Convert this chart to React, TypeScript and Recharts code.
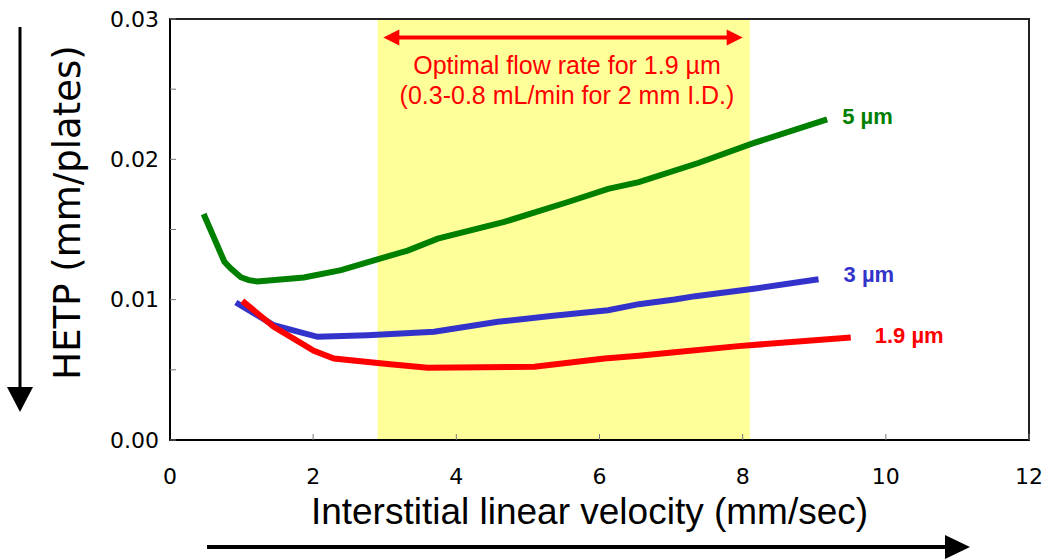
import {
  LineChart,
  Line,
  XAxis,
  YAxis,
  ReferenceArea,
  ReferenceLine,
} from 'recharts'

// velocity (mm/sec) vs HETP (mm/plates)
const hetp5um = [
  { v: 0.47, h: 0.0161 },
  { v: 0.76, h: 0.0127 },
  { v: 0.85, h: 0.01222 },
  { v: 0.99, h: 0.0116 },
  { v: 1.1, h: 0.01139 },
  { v: 1.22, h: 0.0113 },
  { v: 1.87, h: 0.01158 },
  { v: 2.39, h: 0.0121 },
  { v: 2.85, h: 0.0128 },
  { v: 3.32, h: 0.0135 },
  { v: 3.74, h: 0.01435 },
  { v: 4.67, h: 0.01554 },
  { v: 5.56, h: 0.01696 },
  { v: 6.12, h: 0.0179 },
  { v: 6.55, h: 0.01838 },
  { v: 7.38, h: 0.01974 },
  { v: 8.13, h: 0.02112 },
  { v: 9.18, h: 0.02285 },
]

const hetp3um = [
  { v: 0.92, h: 0.0098 },
  { v: 1.45, h: 0.00818 },
  { v: 2.06, h: 0.00735 },
  { v: 2.76, h: 0.00747 },
  { v: 3.69, h: 0.00771 },
  { v: 4.58, h: 0.00842 },
  { v: 5.32, h: 0.00883 },
  { v: 6.12, h: 0.00925 },
  { v: 6.55, h: 0.00968 },
  { v: 7.05, h: 0.01001 },
  { v: 7.34, h: 0.01025 },
  { v: 8.18, h: 0.0108 },
  { v: 9.06, h: 0.01146 },
]

const hetp19um = [
  { v: 1.01, h: 0.00991 },
  { v: 1.45, h: 0.00807 },
  { v: 2.01, h: 0.00636 },
  { v: 2.29, h: 0.00581 },
  { v: 3.04, h: 0.00541 },
  { v: 3.6, h: 0.00515 },
  { v: 5.09, h: 0.00522 },
  { v: 6.07, h: 0.00581 },
  { v: 6.55, h: 0.006 },
  { v: 7.05, h: 0.00625 },
  { v: 7.94, h: 0.00669 },
  { v: 9.51, h: 0.00731 },
]

const xTicks = [0, 2, 4, 6, 8, 10, 12]
const yTicks = [0, 0.005, 0.01, 0.015, 0.02, 0.025, 0.03]

// optimal flow window for 1.9 um
const optimalRange = [2.9, 8.1]
const arrowRange = [2.98, 8.0]
const arrowLevel = 0.02868
const noteLines = [
  'Optimal flow rate for 1.9 \u00b5m',
  '(0.3-0.8 mL/min for 2 mm I.D.)',
]

const GREEN = '#008000'
const BLUE = '#3333cc'
const RED = '#ff0000'
const ARIAL = "'Liberation Sans', Arial, sans-serif"
const VERDANA = "'DejaVu Sans', Verdana, sans-serif"

const endLabel =
  (text: string, color: string, lastIndex: number, dx: number, dy: number) =>
  (props: any) => {
    if (props.index !== lastIndex) return <g key={`l-${props.index}`} />
    return (
      <text
        key={`l-${props.index}`}
        x={props.x + dx}
        y={props.y + dy}
        fill={color}
        fontFamily={ARIAL}
        fontWeight="bold"
        fontSize={22}
      >
        {text}
      </text>
    )
  }

const DoubleArrow = (props: any) => {
  const { x1, y1, x2 } = props
  const cx = (x1 + x2) / 2
  return (
    <g>
      <line x1={x1 + 12} y1={y1} x2={x2 - 12} y2={y1} stroke={RED} strokeWidth={4} />
      <polygon points={`${x1},${y1} ${x1 + 16},${y1 - 8} ${x1 + 16},${y1 + 8}`} fill={RED} />
      <polygon points={`${x2},${y1} ${x2 - 16},${y1 - 8} ${x2 - 16},${y1 + 8}`} fill={RED} />
      <text x={cx + 4} y={y1 + 36} textAnchor="middle" fill={RED} fontFamily={ARIAL} fontSize={25}>
        {noteLines[0]}
      </text>
      <text x={cx + 4} y={y1 + 66} textAnchor="middle" fill={RED} fontFamily={ARIAL} fontSize={25}>
        {noteLines[1]}
      </text>
    </g>
  )
}

const YTitle = (props: any) => {
  const vb = props.viewBox
  const x = vb.x + vb.width - 103
  const y = vb.y + vb.height / 2 - 17
  return (
    <text
      x={x}
      y={y}
      transform={`rotate(-90, ${x}, ${y})`}
      textAnchor="middle"
      dominantBaseline="central"
      fontFamily={VERDANA}
      fontSize={37}
      fill="#000"
    >
      HETP (mm/plates)
    </text>
  )
}

const XTitle = (props: any) => {
  const vb = props.viewBox
  return (
    <text
      x={vb.x + vb.width / 2 - 10}
      y={vb.y + 84}
      textAnchor="middle"
      fontFamily={ARIAL}
      fontSize={37}
      fill="#000"
    >
      Interstitial linear velocity (mm/sec)
    </text>
  )
}

export default function App() {
  return (
    <div style={{ position: 'absolute', left: 0, top: 0, width: 1047, height: 559, background: '#fff' }}>
      <LineChart
        width={1047}
        height={559}
        margin={{ top: 19, right: 18, bottom: 79, left: 70 }}
      >
        <XAxis
          type="number"
          dataKey="v"
          domain={[0, 12]}
          ticks={xTicks}
          allowDataOverflow
          height={40}
          tickSize={-6}
          tickMargin={34}
          axisLine={{ stroke: '#000', strokeWidth: 2 }}
          tickLine={{ stroke: '#777' }}
          tick={{ fill: '#000', fontSize: 22, fontFamily: VERDANA }}
          label={<XTitle />}
        />
        <YAxis
          type="number"
          dataKey="h"
          domain={[0, 0.03]}
          ticks={yTicks}
          allowDataOverflow
          width={100}
          tickSize={-6}
          tickMargin={17}
          axisLine={{ stroke: '#000', strokeWidth: 2 }}
          tickLine={{ stroke: '#777' }}
          tickFormatter={(val: number) =>
            Math.round(val * 1000) % 10 === 0 ? val.toFixed(2) : ''
          }
          tick={{ fill: '#000', fontSize: 22, fontFamily: VERDANA }}
          label={<YTitle />}
        />
        <ReferenceArea
          x1={optimalRange[0]}
          x2={optimalRange[1]}
          y1={0}
          y2={0.03}
          fill="#ffff99"
          fillOpacity={1}
          stroke="none"
        />
        <ReferenceArea
          x1={0}
          x2={12}
          y1={0}
          y2={0.03}
          fill="none"
          stroke="#222"
          strokeWidth={2}
        />
        <Line
          data={hetp5um}
          dataKey="h"
          type="linear"
          stroke={GREEN}
          strokeWidth={6}
          dot={false}
          isAnimationActive={false}
          label={endLabel('5 \u00b5m', GREEN, hetp5um.length - 1, 15, 5)}
        />
        <Line
          data={hetp3um}
          dataKey="h"
          type="linear"
          stroke={BLUE}
          strokeWidth={6}
          dot={false}
          isAnimationActive={false}
          label={endLabel('3 \u00b5m', BLUE, hetp3um.length - 1, 25, 3)}
        />
        <Line
          data={hetp19um}
          dataKey="h"
          type="linear"
          stroke={RED}
          strokeWidth={6}
          dot={false}
          isAnimationActive={false}
          label={endLabel('1.9 \u00b5m', RED, hetp19um.length - 1, 24, 6)}
        />
        <ReferenceLine
          segment={[
            { x: arrowRange[0], y: arrowLevel },
            { x: arrowRange[1], y: arrowLevel },
          ]}
          shape={<DoubleArrow />}
        />
      </LineChart>
      <svg
        width={1047}
        height={559}
        style={{ position: 'absolute', left: 0, top: 0, pointerEvents: 'none' }}
      >
        <line x1={20} y1={27} x2={20} y2={390} stroke="#000" strokeWidth={3} />
        <polygon points="7,387 33,387 20,412" fill="#000" />
        <line x1={207} y1={547} x2={948} y2={547} stroke="#000" strokeWidth={4} />
        <polygon points="945,535 945,559 970,547" fill="#000" />
      </svg>
    </div>
  )
}
